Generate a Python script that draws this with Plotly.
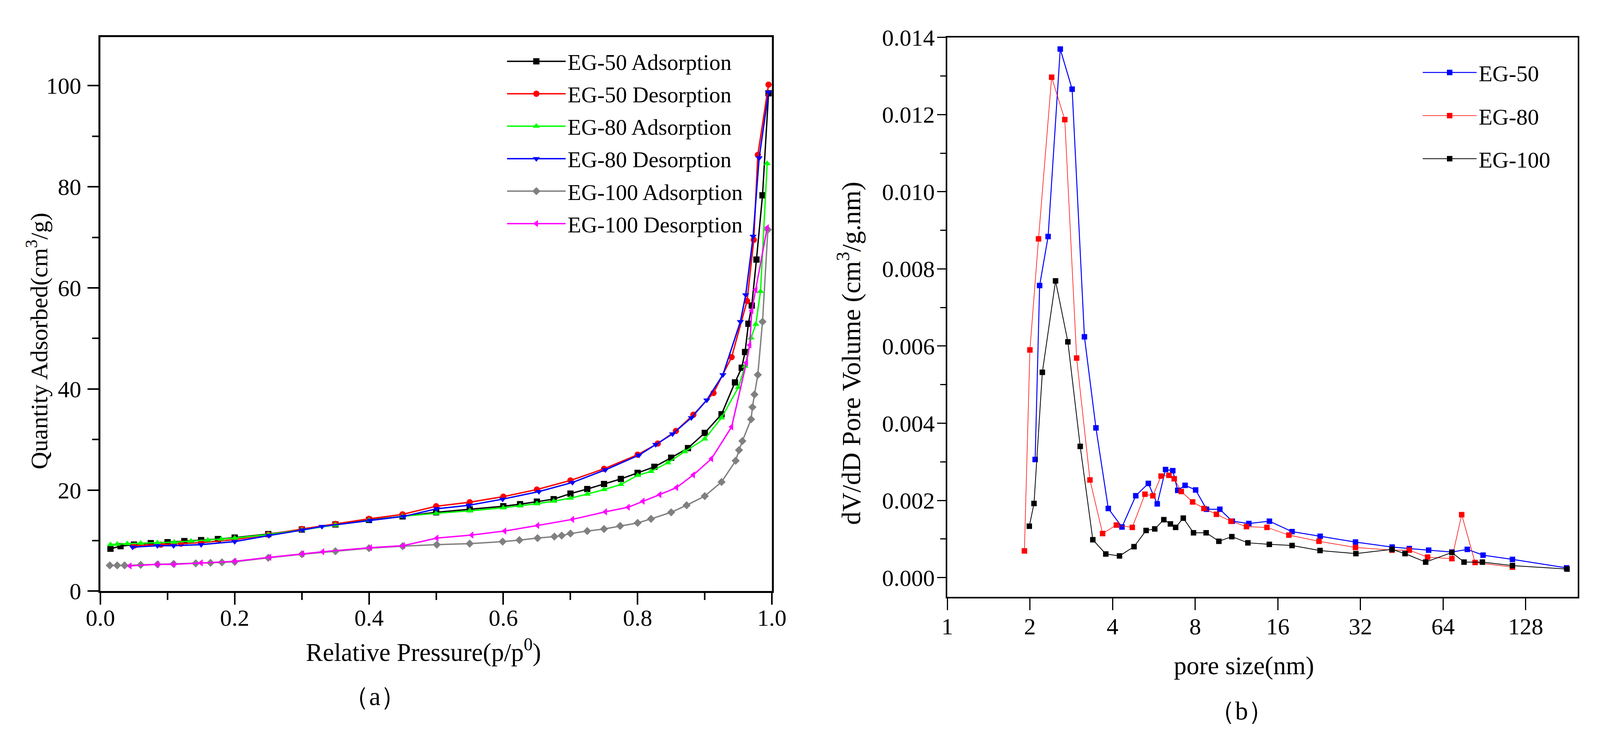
import plotly.graph_objects as go

# ---------------- data: (a) N2 isotherms ----------------
EG50_ADS_P = [0.015, 0.03, 0.05, 0.075, 0.1, 0.125, 0.15, 0.175, 0.2, 0.25, 0.3, 0.35, 0.4, 0.45,
              0.5, 0.55, 0.6, 0.625, 0.65, 0.675, 0.7, 0.725, 0.75, 0.775, 0.8, 0.825, 0.85, 0.875,
              0.9, 0.925, 0.945, 0.955, 0.96, 0.965, 0.97, 0.977, 0.986, 0.995]
EG50_ADS_Q = [8.4, 8.9, 9.2, 9.5, 9.7, 9.9, 10.1, 10.3, 10.6, 11.3, 12.2, 13.2, 14.1, 14.8,
              15.6, 16.2, 16.8, 17.2, 17.7, 18.2, 19.3, 20.2, 21.2, 22.2, 23.4, 24.6, 26.4, 28.3,
              31.3, 35.0, 41.3, 44.2, 47.3, 52.9, 56.5, 65.6, 78.3, 98.5]

EG50_DES_P = [0.995, 0.979, 0.973, 0.963, 0.94, 0.913, 0.883, 0.857, 0.83, 0.8, 0.75, 0.7, 0.65,
              0.6, 0.55, 0.5, 0.45, 0.4, 0.35, 0.3, 0.25, 0.2, 0.15, 0.12, 0.09, 0.05]
EG50_DES_Q = [100.2, 86.3, 69.5, 57.4, 46.3, 39.2, 34.9, 31.7, 29.2, 27.0, 24.2, 21.9, 20.1,
              18.7, 17.6, 16.8, 15.2, 14.3, 13.3, 12.3, 11.2, 10.2, 9.6, 9.4, 9.2, 9.0]

EG80_ADS_P = [0.015, 0.025, 0.04, 0.06, 0.085, 0.11, 0.135, 0.16, 0.18, 0.2, 0.25, 0.3, 0.35, 0.4,
              0.45, 0.5, 0.55, 0.6, 0.625, 0.65, 0.675, 0.7, 0.725, 0.75, 0.775, 0.8, 0.82, 0.845,
              0.87, 0.9, 0.925, 0.95, 0.96, 0.969, 0.976, 0.983, 0.993]
EG80_ADS_Q = [9.2, 9.3, 9.4, 9.5, 9.6, 9.7, 9.9, 10.1, 10.3, 10.5, 11.2, 12.1, 13.1, 14.0,
              14.8, 15.4, 15.9, 16.5, 16.9, 17.3, 17.8, 18.4, 19.2, 20.1, 21.1, 22.9, 23.7, 25.4,
              27.6, 30.1, 34.3, 40.3, 44.5, 50.1, 52.8, 59.3, 84.6]

EG80_DES_P = [0.995, 0.981, 0.972, 0.961, 0.953, 0.927, 0.903, 0.88, 0.852, 0.827, 0.802, 0.752,
              0.703, 0.653, 0.599, 0.549, 0.501, 0.452, 0.402, 0.33, 0.301, 0.251, 0.2, 0.15,
              0.109, 0.085, 0.048]
EG80_DES_Q = [98.7, 85.7, 70.2, 58.6, 53.3, 42.8, 37.8, 34.3, 31.1, 29.0, 26.9, 24.0,
              21.5, 19.7, 18.2, 17.0, 16.3, 14.8, 14.0, 12.8, 12.1, 11.0, 9.8, 9.2,
              9.0, 9.0, 8.7]

EG100_ADS_P = [0.014, 0.025, 0.036, 0.06, 0.085, 0.109, 0.142, 0.164, 0.181, 0.2, 0.25, 0.3, 0.35,
               0.4, 0.45, 0.501, 0.55, 0.599, 0.624, 0.651, 0.676, 0.687, 0.7, 0.725, 0.75, 0.774,
               0.8, 0.82, 0.85, 0.873, 0.9, 0.925, 0.946, 0.951, 0.956, 0.969, 0.971, 0.974,
               0.979, 0.986, 0.994]
EG100_ADS_Q = [5.1, 5.1, 5.1, 5.2, 5.3, 5.4, 5.5, 5.6, 5.7, 5.8, 6.6, 7.3, 7.9,
               8.5, 8.9, 9.2, 9.4, 9.8, 10.1, 10.5, 10.8, 11.0, 11.4, 11.9, 12.3, 12.9,
               13.5, 14.3, 15.6, 17.0, 18.8, 21.6, 25.8, 27.9, 29.7, 34.0, 36.4, 38.9,
               42.8, 53.3, 71.5]

EG100_DES_P = [0.993, 0.976, 0.97, 0.967, 0.962, 0.94, 0.91, 0.883, 0.858, 0.833, 0.808, 0.786,
               0.752, 0.703, 0.651, 0.602, 0.553, 0.501, 0.451, 0.402, 0.331, 0.301, 0.252, 0.2,
               0.15, 0.109, 0.085, 0.044]
EG100_DES_Q = [71.9, 59.6, 55.5, 48.7, 45.2, 32.5, 26.2, 23.0, 20.5, 19.1, 17.8, 16.6,
               15.7, 14.2, 13.0, 11.9, 11.1, 10.5, 9.0, 8.6, 7.8, 7.4, 6.7, 5.9,
               5.6, 5.3, 5.3, 5.0]

# ---------------- data: (b) pore size distribution ----------------
PSD50_D = [2.09, 2.17, 2.33, 2.58, 2.85, 3.16, 3.48, 3.86, 4.33, 4.86, 5.40, 5.82, 6.24, 6.63,
           6.91, 7.35, 8.03, 8.8, 9.84, 10.92, 12.55, 14.91, 18.03, 22.82, 30.7, 41.74, 48.2,
           56.7, 68.9, 78.4, 89.5, 114.5, 180.3]
PSD50_V = [0.00306, 0.00757, 0.00884, 0.01370, 0.01266, 0.00624, 0.00388, 0.00179, 0.00131,
           0.00212, 0.00244, 0.00191, 0.00280, 0.00277, 0.00226, 0.00239, 0.00227, 0.00177,
           0.00177, 0.00146, 0.00140, 0.00146, 0.00119, 0.00107, 0.00092, 0.00079, 0.00075,
           0.00071, 0.00066, 0.00073, 0.00058, 0.00047, 0.00025]

PSD80_D = [1.91, 2.0, 2.15, 2.40, 2.68, 2.96, 3.31, 3.68, 4.13, 4.72, 5.25, 5.61, 6.01, 6.42,
           6.71, 7.12, 7.83, 8.61, 9.56, 10.8, 12.3, 14.61, 17.56, 22.6, 30.7, 41.7, 48.2,
           56.2, 68.9, 74.8, 83.7, 114.5]
PSD80_V = [0.00069, 0.00590, 0.00878, 0.01297, 0.01187, 0.00569, 0.00253, 0.00114, 0.00136,
           0.00130, 0.00216, 0.00212, 0.00263, 0.00265, 0.00256, 0.00223, 0.00196, 0.00179,
           0.00164, 0.00146, 0.00132, 0.00130, 0.00110, 0.00094, 0.00078, 0.00071, 0.00071,
           0.00053, 0.00049, 0.00163, 0.00039, 0.00027]

PSD100_D = [1.99, 2.07, 2.22, 2.48, 2.75, 3.05, 3.39, 3.78, 4.24, 4.79, 5.30, 5.70, 6.15, 6.50,
            6.79, 7.24, 7.89, 8.77, 9.76, 10.88, 12.45, 14.9, 18.03, 22.8, 30.8, 41.7, 46.5,
            55.3, 68.9, 76.3, 89.0, 114.5, 181.0]
PSD100_V = [0.00133, 0.00192, 0.00532, 0.00769, 0.00611, 0.00340, 0.00098, 0.00061, 0.00056,
            0.00080, 0.00122, 0.00126, 0.00150, 0.00139, 0.00130, 0.00154, 0.00116, 0.00116,
            0.00094, 0.00106, 0.00090, 0.00086, 0.00083, 0.00070, 0.00062, 0.00073, 0.00062,
            0.00040, 0.00065, 0.00040, 0.00040, 0.00031, 0.00022]

X_TICKS_B = [1, 2, 4, 8, 16, 32, 64, 128]

# ---------------- layout helpers (reference pixels -> paper fractions) ----------------
W, H = 4362, 1897
OFF = 8
FW, FH = W - 2 * OFF, H - 2 * OFF


def fx(X):
    return (X - OFF) / FW


def fy(Y):
    return 1 - (Y - OFF) / FH


SERIF = "Liberation Serif"

fig = go.Figure()

iso_series = [
    ("EG-50 Adsorption", EG50_ADS_P, EG50_ADS_Q, "#000000", "square"),
    ("EG-50 Desorption", EG50_DES_P, EG50_DES_Q, "#FF0000", "circle"),
    ("EG-80 Adsorption", EG80_ADS_P, EG80_ADS_Q, "#00FF00", "triangle-up"),
    ("EG-80 Desorption", EG80_DES_P, EG80_DES_Q, "#0000FF", "triangle-down"),
    ("EG-100 Adsorption", EG100_ADS_P, EG100_ADS_Q, "#808080", "diamond"),
    ("EG-100 Desorption", EG100_DES_P, EG100_DES_Q, "#FF00FF", "triangle-left"),
]
for name, xs, ys, col, sym in iso_series:
    fig.add_trace(go.Scatter(
        x=xs, y=ys, name=name, mode="lines+markers", legendgroup=name, legend="legend",
        line=dict(color=col, width=3.5),
        marker=dict(color=col, symbol=sym, size=16, line=dict(width=0)),
        xaxis="x", yaxis="y"))

psd_series = [
    ("EG-50", PSD50_D, PSD50_V, "#0000FF", 2.5),
    ("EG-80", PSD80_D, PSD80_V, "#FF0000", 1.5),
    ("EG-100", PSD100_D, PSD100_V, "#000000", 2.0),
]
for name, xs, ys, col, lw in psd_series:
    fig.add_trace(go.Scatter(
        x=xs, y=ys, name=name, mode="lines+markers", legendgroup=name, legend="legend2",
        line=dict(color=col, width=lw),
        marker=dict(color=col, symbol="square", size=14, line=dict(width=0)),
        xaxis="x2", yaxis="y2"))

tickfont = dict(family=SERIF, size=60, color="black")
axis_common = dict(showline=True, linecolor="black", mirror=True, ticks="outside",
                   tickcolor="black", showgrid=False, zeroline=False, tickfont=tickfont)

fig.update_layout(
    autosize=True,
    margin=dict(l=0, r=0, t=0, b=0),
    paper_bgcolor="white", plot_bgcolor="white",
    font=dict(family=SERIF, color="black"),
    xaxis=dict(domain=[fx(238), fx(2103)], range=[0, 1.0], dtick=0.2, tickformat=".1f",
               linewidth=5, ticklen=30, tickwidth=4, ticklabelstandoff=-18,
               minor=dict(dtick=0.1, ticks="outside", ticklen=18, tickwidth=4, tickcolor="black"),
               anchor="y", **axis_common),
    yaxis=dict(domain=[fy(1535), fy(65)], range=[0, 109.6], dtick=20,
               linewidth=5, ticklen=28, tickwidth=4, ticklabelstandoff=4,
               minor=dict(dtick=10, ticks="outside", ticklen=16, tickwidth=4, tickcolor="black"),
               anchor="x", **axis_common),
    xaxis2=dict(domain=[fx(2590), fx(4341)], type="log", range=[0, 2.2967],
                tickvals=X_TICKS_B, ticktext=[str(v) for v in X_TICKS_B],
                linewidth=4, ticklen=30, tickwidth=3, ticklabelstandoff=-10,
                anchor="y2", **axis_common),
    yaxis2=dict(domain=[fy(1550), fy(66)], range=[-0.0005, 0.014], dtick=0.002, tickformat=".3f",
                linewidth=4, ticklen=22, tickwidth=3, ticklabelstandoff=-6,
                minor=dict(dtick=0.001, ticks="outside", ticklen=14, tickwidth=3, tickcolor="black"),
                anchor="x2", **axis_common),
    legend=dict(x=fx(1362), y=fy(84), xanchor="left", yanchor="top",
                bgcolor="rgba(0,0,0,0)", borderwidth=0, itemwidth=150,
                tracegroupgap=6, traceorder="grouped",
                font=dict(family=SERIF, size=57, color="black")),
    legend2=dict(x=fx(3905), y=fy(113), xanchor="left", yanchor="top",
                 bgcolor="rgba(0,0,0,0)", borderwidth=0, itemwidth=138,
                 tracegroupgap=32, traceorder="grouped",
                 font=dict(family=SERIF, size=58, color="black")),
    showlegend=True,
)

annotations = [
    dict(text="Quantity Adsorbed(cm<sup>3</sup>/g)", x=fx(63), y=fy(871), textangle=-90, size=62),
    dict(text="Relative Pressure(p/p<sup>0</sup>)", x=fx(1135), y=fy(1692), textangle=0, size=65),
    dict(text="（a）", x=fx(1000), y=fy(1814), textangle=0, size=66),
    dict(text="dV/dD Pore Volume (cm<sup>3</sup>/g.nm)", x=fx(2318), y=fy(904), textangle=-90, size=68),
    dict(text="pore size(nm)", x=fx(3414), y=fy(1732), textangle=0, size=65),
    dict(text="（b）", x=fx(3407), y=fy(1852), textangle=0, size=66),
]
for a in annotations:
    fig.add_annotation(xref="paper", yref="paper", xanchor="center", yanchor="middle",
                       showarrow=False, text=a["text"], x=a["x"], y=a["y"],
                       textangle=a["textangle"],
                       font=dict(family=SERIF, size=a["size"], color="black"))

# The figure fills the browser viewport (minus the page's default 8px body margin).
fig.write_html("out.html", default_width="calc(100vw - 16px)", default_height="calc(100vh - 16px)")
